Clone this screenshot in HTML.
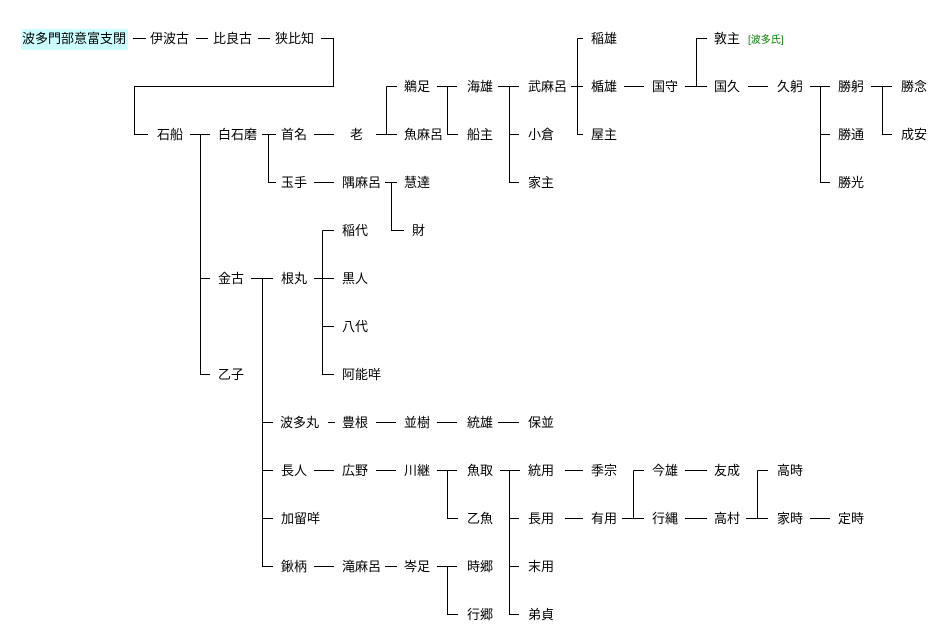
<!DOCTYPE html>
<html><head><meta charset="utf-8"><style>
html,body{margin:0;padding:0;background:#fff;width:938px;height:632px;overflow:hidden}
svg{display:block}
text{font-family:"Liberation Sans","Noto Sans CJK JP",sans-serif;font-size:13px;fill:#000}
</style></head><body>
<svg width="938" height="632" xmlns="http://www.w3.org/2000/svg" shape-rendering="crispEdges">
<rect x="21" y="29" width="107" height="21" fill="#ccffff"/>
<g stroke="#000" stroke-width="1" fill="none">
<!-- row 38 -->
<path d="M133 38.5H146M196 38.5H208M258 38.5H270M321 38.5H333.5V86.5H134.5V134.5H148"/>
<!-- 石船 -->
<path d="M190 134.5H210M200.5 134.5V374.5H210M200.5 278.5H210"/>
<path d="M262 134.5H276M268.5 134.5V182.5H276"/>
<path d="M314 134.5H334M376 134.5H397M386.5 86.5V134.5M386.5 86.5H397"/>
<path d="M437 86.5H457M447.5 86.5V134.5H458"/>
<path d="M498 86.5H519M509.5 86.5V182.5H519M509.5 134.5H519"/>
<path d="M571 86.5H583M577.5 38.5V134.5H583M577.5 38.5H583"/>
<path d="M624 86.5H644"/>
<path d="M685 86.5H707M696.5 86.5V38.5H707"/>
<path d="M748 86.5H768"/>
<path d="M810 86.5H830M820.5 86.5V182.5H830M820.5 134.5H830"/>
<path d="M871 86.5H892M882.5 86.5V134.5H892"/>
<!-- 玉手 -->
<path d="M314 182.5H334M385 182.5H397M391.5 182.5V230.5H404"/>
<!-- 金古 -->
<path d="M251 278.5H273M262.5 278.5V566.5H273M262.5 422.5H273M262.5 470.5H273M262.5 518.5H273"/>
<path d="M314 278.5H334M322.5 230.5V374.5H334M322.5 230.5H334M322.5 326.5H334"/>
<!-- 422 -->
<path d="M328 422.5H335M376 422.5H396M437 422.5H457M498 422.5H519"/>
<!-- 470 -->
<path d="M314 470.5H334M376 470.5H396M437 470.5H457M447.5 470.5V518.5H458"/>
<path d="M500 470.5H520M509.5 470.5V614.5H519M509.5 518.5H519M509.5 566.5H519"/>
<path d="M565 470.5H583M565 518.5H583"/>
<path d="M622 518.5H644M633.5 470.5V518.5M633.5 470.5H644"/>
<path d="M685 470.5H707M685 518.5H707"/>
<path d="M746 518.5H768M757.5 470.5V518.5M757.5 470.5H768"/>
<path d="M810 518.5H830"/>
<!-- 566 -->
<path d="M314 566.5H334M385 566.5H397M437 566.5H457M447.5 566.5V614.5H458"/>
</g>
<text x="22" y="43">波多門部意富支閉</text>
<text x="150" y="43">伊波古</text>
<text x="213" y="43">比良古</text>
<text x="275" y="43">狭比知</text>
<text x="591" y="43">稲雄</text>
<text x="714" y="43">敦主</text>
<text x="748" y="43" style="font-size:10px;fill:#008000">[波多氏]</text>

<text x="404" y="91">鵜足</text>
<text x="467" y="91">海雄</text>
<text x="528" y="91">武麻呂</text>
<text x="591" y="91">楯雄</text>
<text x="652" y="91">国守</text>
<text x="714" y="91">国久</text>
<text x="777" y="91">久躬</text>
<text x="838" y="91">勝躬</text>
<text x="901" y="91">勝念</text>

<text x="157" y="139">石船</text>
<text x="218" y="139">白石磨</text>
<text x="281" y="139">首名</text>
<text x="350" y="139">老</text>
<text x="404" y="139">魚麻呂</text>
<text x="467" y="139">船主</text>
<text x="528" y="139">小倉</text>
<text x="591" y="139">屋主</text>
<text x="838" y="139">勝通</text>
<text x="901" y="139">成安</text>

<text x="281" y="187">玉手</text>
<text x="342" y="187">隅麻呂</text>
<text x="404" y="187">慧達</text>
<text x="528" y="187">家主</text>
<text x="838" y="187">勝光</text>

<text x="342" y="235">稲代</text>
<text x="412" y="235">財</text>

<text x="218" y="283">金古</text>
<text x="281" y="283">根丸</text>
<text x="342" y="283">黒人</text>
<text x="342" y="331">八代</text>
<text x="218" y="379">乙子</text>
<text x="342" y="379">阿能咩</text>

<text x="280" y="427">波多丸</text>
<text x="342" y="427">豊根</text>
<text x="404" y="427">並樹</text>
<text x="467" y="427">統雄</text>
<text x="528" y="427">保並</text>

<text x="281" y="475">長人</text>
<text x="342" y="475">広野</text>
<text x="404" y="475">川継</text>
<text x="467" y="475">魚取</text>
<text x="528" y="475">統用</text>
<text x="591" y="475">季宗</text>
<text x="652" y="475">今雄</text>
<text x="714" y="475">友成</text>
<text x="777" y="475">高時</text>

<text x="281" y="523">加留咩</text>
<text x="467" y="523">乙魚</text>
<text x="528" y="523">長用</text>
<text x="591" y="523">有用</text>
<text x="652" y="523">行縄</text>
<text x="714" y="523">高村</text>
<text x="777" y="523">家時</text>
<text x="838" y="523">定時</text>

<text x="281" y="571">鍬柄</text>
<text x="342" y="571">滝麻呂</text>
<text x="404" y="571">岑足</text>
<text x="467" y="571">時郷</text>
<text x="528" y="571">末用</text>

<text x="467" y="619">行郷</text>
<text x="528" y="619">弟貞</text>
</svg>
</body></html>
